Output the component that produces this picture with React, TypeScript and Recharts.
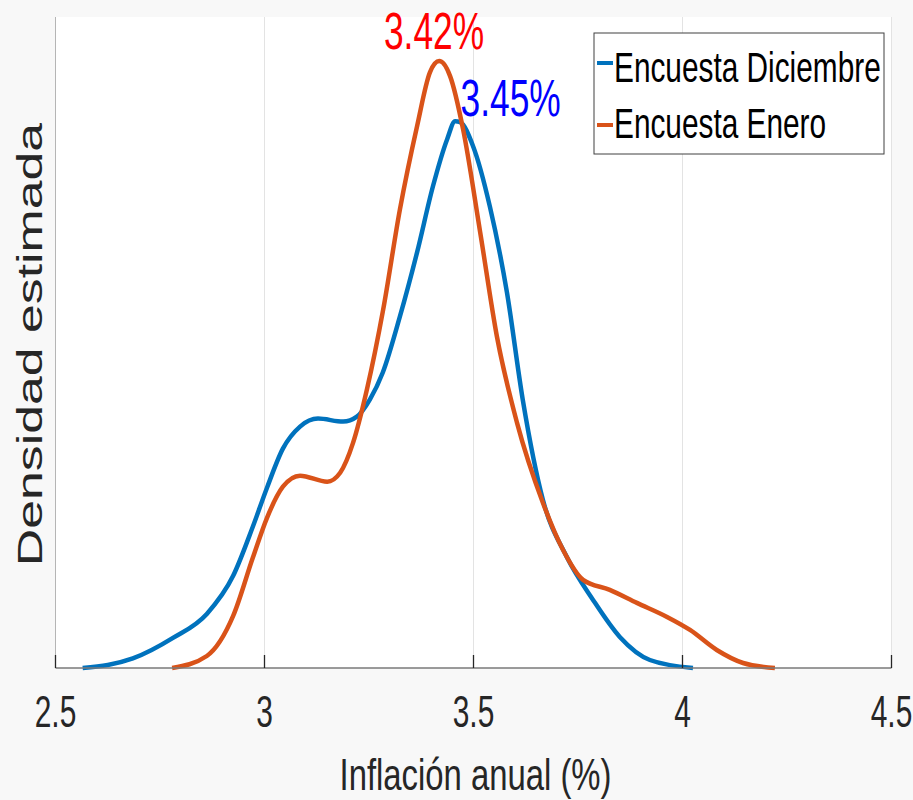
import {
  CartesianGrid,
  Label,
  Line,
  LineChart,
  ReferenceDot,
  ReferenceLine,
  XAxis,
  YAxis,
} from "recharts";

// Estimated densities (x = inflation %, y = density)
const diciembre = [
  { x: 2.565, y: 0 },
  { x: 2.685, y: 0.038 },
  { x: 2.781, y: 0.12 },
  { x: 2.862, y: 0.216 },
  { x: 2.925, y: 0.368 },
  { x: 2.972, y: 0.564 },
  { x: 3.006, y: 0.72 },
  { x: 3.044, y: 0.876 },
  { x: 3.085, y: 0.964 },
  { x: 3.128, y: 0.996 },
  { x: 3.188, y: 0.984 },
  { x: 3.221, y: 1.004 },
  { x: 3.252, y: 1.072 },
  { x: 3.283, y: 1.18 },
  { x: 3.324, y: 1.404 },
  { x: 3.365, y: 1.66 },
  { x: 3.403, y: 1.924 },
  { x: 3.437, y: 2.112 },
  { x: 3.456, y: 2.184 },
  { x: 3.468, y: 2.18 },
  { x: 3.499, y: 2.084 },
  { x: 3.539, y: 1.844 },
  { x: 3.58, y: 1.5 },
  { x: 3.618, y: 1.07 },
  { x: 3.666, y: 0.672 },
  { x: 3.723, y: 0.444 },
  { x: 3.786, y: 0.272 },
  { x: 3.85, y: 0.124 },
  { x: 3.922, y: 0.032 },
  { x: 4.025, y: 0 },
];

const enero = [
  { x: 2.779, y: 0 },
  { x: 2.862, y: 0.048 },
  { x: 2.925, y: 0.208 },
  { x: 2.972, y: 0.44 },
  { x: 3.006, y: 0.6 },
  { x: 3.044, y: 0.724 },
  { x: 3.085, y: 0.768 },
  { x: 3.15, y: 0.744 },
  { x: 3.181, y: 0.78 },
  { x: 3.212, y: 0.9 },
  { x: 3.245, y: 1.112 },
  { x: 3.284, y: 1.432 },
  { x: 3.324, y: 1.832 },
  { x: 3.365, y: 2.164 },
  { x: 3.396, y: 2.38 },
  { x: 3.418, y: 2.424 },
  { x: 3.444, y: 2.364 },
  { x: 3.475, y: 2.152 },
  { x: 3.516, y: 1.74 },
  { x: 3.556, y: 1.324 },
  { x: 3.604, y: 0.98 },
  { x: 3.666, y: 0.66 },
  { x: 3.714, y: 0.472 },
  { x: 3.762, y: 0.352 },
  { x: 3.826, y: 0.312 },
  { x: 3.891, y: 0.26 },
  { x: 3.963, y: 0.204 },
  { x: 4.018, y: 0.152 },
  { x: 4.082, y: 0.072 },
  { x: 4.145, y: 0.02 },
  { x: 4.221, y: 0 },
];

const xTicks = [2.5, 3, 3.5, 4, 4.5];

const series = [
  { key: "dic", label: "Encuesta Diciembre", color: "#0072BD", data: diciembre },
  { key: "ene", label: "Encuesta Enero", color: "#D95319", data: enero },
];

const peaks = [
  { x: 3.42, y: 2.424, text: "3.42%", color: "#ff0000", dx: -6, dy: -12 },
  { x: 3.45, y: 2.184, text: "3.45%", color: "#0000ff", dx: 58, dy: -5 },
];

const font = "'Liberation Sans', Arial, Helvetica, sans-serif";
const ink = "#262626";

function XTick(props: any) {
  const { x, y, payload } = props;
  return (
    <g>
      <line x1={x} x2={x} y1={y - 13} y2={y} stroke={ink} strokeWidth={1.3} />
      <text
        transform={`translate(${x},${y + 59}) scale(0.68,1)`}
        textAnchor="middle"
        fontSize={44}
        fontFamily={font}
        fill={ink}
      >
        {payload.value}
      </text>
    </g>
  );
}

function PeakLabel({ viewBox, peak }: any) {
  const cx = viewBox.x + viewBox.width / 2;
  const cy = viewBox.y + viewBox.height / 2;
  return (
    <text
      transform={`translate(${cx + peak.dx},${cy + peak.dy}) scale(0.68,1)`}
      textAnchor="middle"
      fontSize={52}
      fontFamily={font}
      fill={peak.color}
    >
      {peak.text}
    </text>
  );
}

function YTitle({ viewBox }: any) {
  return (
    <text
      transform={`translate(${viewBox.x - 14},${viewBox.y + viewBox.height / 2 + 2}) rotate(-90) scale(1.48,1)`}
      textAnchor="middle"
      fontSize={35}
      fontFamily={font}
      fill={ink}
    >
      Densidad estimada
    </text>
  );
}

function LegendBox() {
  return (
    <svg
      width={292}
      height={124}
      style={{ position: "absolute", left: 593, top: 32 }}
    >
      <rect x={1} y={1} width={290} height={121} fill="#ffffff" stroke="#404040" strokeWidth={1} />
      {series.map((s, i) => (
        <g key={s.key}>
          <line x1={4} x2={20} y1={31 + i * 62} y2={31 + i * 62} stroke={s.color} strokeWidth={4} />
          <text
            transform={`translate(21,${50 + i * 56}) scale(0.71,1)`}
            fontSize={42}
            fontFamily={font}
            fill="#000000"
          >
            {s.label}
          </text>
        </g>
      ))}
    </svg>
  );
}

export default function App() {
  return (
    <div
      style={{
        position: "absolute",
        left: 0,
        top: 0,
        width: 913,
        height: 800,
        background: "#f8f8f8",
        overflow: "hidden",
      }}
    >
      <LineChart
        width={913}
        height={800}
        margin={{ top: 17, right: 21.5, left: 55.5, bottom: 52 }}
      >
        <CartesianGrid vertical horizontal={false} stroke="#e3e3e3" fill="#ffffff" />
        <XAxis
          dataKey="x"
          type="number"
          domain={[2.5, 4.5]}
          ticks={xTicks}
          allowDataOverflow
          height={80}
          tickSize={0}
          tickMargin={0}
          tickLine={false}
          axisLine={{ stroke: "#7a7a7a", strokeWidth: 1.3 }}
          tick={<XTick />}
        >
          <Label
            content={({ viewBox }: any) => (
              <text
                transform={`translate(${viewBox.x + viewBox.width / 2 + 2},${viewBox.y + 122}) scale(0.73,1)`}
                textAnchor="middle"
                fontSize={45}
                fontFamily={font}
                fill={ink}
              >
                Inflación anual (%)
              </text>
            )}
          />
        </XAxis>
        <YAxis type="number" domain={[0, 2.6]} hide />
        <ReferenceLine
          x={2.5}
          stroke="#b5b5b5"
          strokeWidth={1}
          label={<YTitle />}
        />
        {series.map((s) => (
          <Line
            key={s.key}
            data={s.data}
            dataKey="y"
            name={s.label}
            type="monotone"
            stroke={s.color}
            strokeWidth={4.5}
            dot={false}
            activeDot={false}
            isAnimationActive={false}
          />
        ))}
        {peaks.map((p) => (
          <ReferenceDot
            key={p.text}
            x={p.x}
            y={p.y}
            r={1}
            fill="none"
            stroke="none"
            label={<PeakLabel peak={p} />}
          />
        ))}
      </LineChart>
      <LegendBox />
    </div>
  );
}
